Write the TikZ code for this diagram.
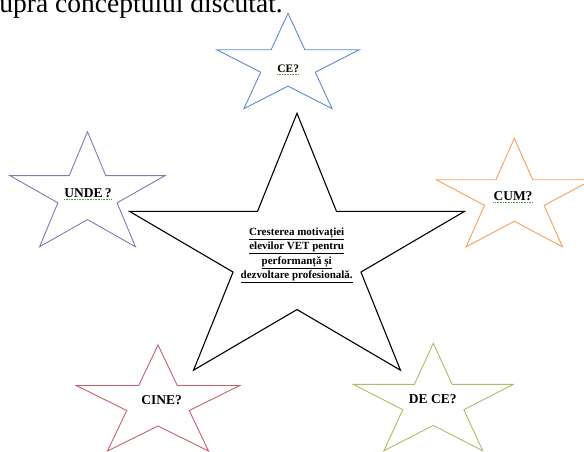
\documentclass[tikz,border=0pt]{standalone}
\usepackage{fontspec}
\setmainfont{Liberation Serif}
\definecolor{starblue}{HTML}{5B8BD0}
\definecolor{starpurple}{HTML}{8577B5}
\definecolor{starorange}{HTML}{F7A05A}
\definecolor{starred}{HTML}{C8606A}
\definecolor{stargreen}{HTML}{A6BF6A}
\definecolor{spellgreen}{HTML}{4E9A3A}
\newcommand\drawstar[6]{% options, cx, cy, Rx, Ry, inner ratio
  \draw[#1, shift={(#2,#3)}, xscale=#4, yscale=-#5, line join=miter]
    (90:1) -- (126:#6) -- (162:1) -- (198:#6) -- (234:1) -- (270:#6)
    -- (306:1) -- (342:#6) -- (18:1) -- (54:#6) -- cycle;}
\begin{document}
\begin{tikzpicture}[x=1pt,y=-1pt,
  smallstar/.style={line width=0.9pt},
  bigstar/.style={line width=1.1pt, black},
  lbl/.style={font=\bfseries\fontsize{13.5}{15}\selectfont, inner sep=0pt},
  spell/.style={spellgreen, densely dotted, line width=0.6pt}]
\useasboundingbox (0,0) rectangle (584,451);
% top line of running text (cut off, as in the reference)
\begin{scope}
\clip (0,0) rectangle (584,451);
\node[anchor=base east, inner sep=0pt, font=\fontsize{27.5}{30}\selectfont] (head) at (283,12.5) {supra conceptului discutat.};
\end{scope}
% stars
\drawstar{bigstar}{297}{255.3}{176}{142}{0.382}
\drawstar{smallstar, starblue}{288}{66}{75}{52.7}{0.382}
\drawstar{smallstar, starpurple}{87.5}{195.3}{81.5}{63.6}{0.382}
\drawstar{smallstar, starorange}{514.3}{198.3}{82}{60}{0.382}
\drawstar{smallstar, starred}{158}{403.6}{86}{58.6}{0.382}
\drawstar{smallstar, stargreen}{433.3}{402.7}{84.1}{59.4}{0.382}
% labels
\node[align=center, font=\bfseries\fontsize{11}{14.5}\selectfont] (main) at (296.7,255.5)
  {\underline{Cresterea motivației}\\ \underline{elevilor VET pentru}\\ \underline{performanță și}\\ \underline{dezvoltare profesională.}};
\node[lbl, font=\bfseries\fontsize{11.5}{13}\selectfont] (ce) at (288.3,68.3) {CE?};
\node[lbl] (unde) at (88,193) {UNDE\,?};
\node[lbl] (cum) at (513,196) {CUM?};
\node[lbl] (cine) at (161.7,400.5) {CINE?};
\node[lbl] (dece) at (432.7,399.5) {DE CE?};
\draw[spell] ([yshift=-1.5pt]ce.south west) -- ([yshift=-1.5pt]ce.south east);
\draw[spell] ([yshift=-1.5pt]unde.south west) -- ([yshift=-1.5pt]unde.south east);
\draw[spell] ([yshift=-1.5pt]cum.south west) -- ([yshift=-1.5pt]cum.south east);
\end{tikzpicture}
\end{document}
